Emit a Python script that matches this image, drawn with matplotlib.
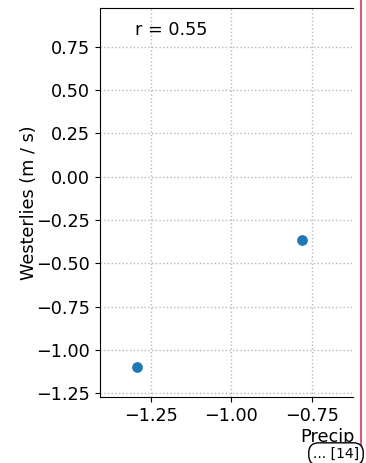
import matplotlib
matplotlib.use('Agg')
import matplotlib.pyplot as plt
from matplotlib.lines import Line2D

# Precip vs westerlies
precip = [-1.294, -0.781]
westerlies = [-1.098, -0.365]
r_value = 0.55
xticks = [-1.25, -1.00, -0.75]
yticks = [0.75, 0.50, 0.25, 0.00, -0.25, -0.50, -0.75, -1.00, -1.25]

FS = 12.7
W, H = 366, 463
fig = plt.figure(figsize=(W / 100, H / 100), dpi=100)
ax = fig.add_axes([100 / W, (H - 397) / H, 253 / W, 389 / H])

ax.scatter(precip, westerlies, s=45, color='#1f77b4', zorder=3)
ax.set_xlim(-1.408, -0.623)
ax.set_ylim(-1.271, 0.974)
ax.set_xticks(xticks)
ax.set_yticks(yticks)
ax.set_xticklabels(['\u2212%.2f' % abs(v) for v in xticks])
ax.set_yticklabels([('\u2212%.2f' % abs(v)) if v < 0 else '%.2f' % v for v in yticks])
ax.tick_params(labelsize=FS)
ax.grid(True, linestyle=':', color='#b8b8b8', linewidth=1.0)
ax.spines['right'].set_visible(False)

ax.set_ylabel('Westerlies (m / s)', fontsize=FS)
ax.yaxis.set_label_coords(-62 / 253, 0.5)
ax.text(0.14, 0.943, 'r = %.2f' % r_value, transform=ax.transAxes,
        fontsize=FS, va='center', ha='left')

# cut-off x label
fig.text(355 / W, (H - 437) / H, 'Precip', fontsize=FS, ha='right', va='center')
fig.text(336 / W, (H - 454) / H, '... [14]', fontsize=10, ha='center', va='center',
         bbox=dict(boxstyle='round,pad=0.3,rounding_size=0.7', facecolor='white',
                   edgecolor='black', linewidth=1))

# red frame edge
fig.add_artist(Line2D([361 / W, 361 / W], [0, 1], transform=fig.transFigure,
                      color='#dc5a78', linewidth=1.5))

fig.savefig('out.png', dpi=100)
